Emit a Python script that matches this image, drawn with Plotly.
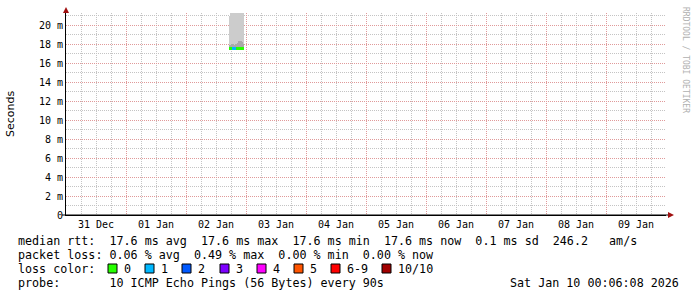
import plotly.graph_objects as go

# ---- data ----
times = ["2026-01-02 17:36", "2026-01-02 18:00", "2026-01-02 18:24", "2026-01-02 18:48",
         "2026-01-02 19:12", "2026-01-02 19:36", "2026-01-02 20:00", "2026-01-02 20:24",
         "2026-01-02 20:48", "2026-01-02 21:12", "2026-01-02 21:36", "2026-01-02 22:00",
         "2026-01-02 22:24", "2026-01-02 22:48"]
smoke_min = [17.4, 17.4, 17.4, 17.4, 17.4, 17.4, 17.4, 17.4, 17.4, 17.4, 17.4, 17.4, 17.4, 17.4]
smoke_max = [21.0, 21.3, 21.3, 21.3, 21.3, 21.3, 21.3, 21.3, 21.3, 21.3, 21.3, 21.3, 21.3, 21.3]
smoke_dark = [17.9, 17.9, 18.0, 18.0, 17.9, 17.9, 18.0, 18.0, 18.1, 18.3, 18.3, 18.3, 18.2, 18.0]
median_ms = [17.6, 17.6, 17.6, 17.6, 17.6, 17.6, 17.6, 17.6, 17.6, 17.6, 17.6, 17.6, 17.6, 17.6]
loss_count = [0, 0, 0, 1, 1, 1, 1, 0, 0, 0, 0, 0, 0, 0]

loss_labels = ["0", "1", "2", "3", "4", "5", "6-9", "10/10"]
loss_colors = ["#26ff00", "#00b8ff", "#0059ff", "#7e00ff", "#ff00ff", "#ff5500", "#ff0000", "#a10000"]

y_tickvals = [0, 2, 4, 6, 8, 10, 12, 14, 16, 18, 20]
y_ticktext = ["0", "2 m", "4 m", "6 m", "8 m", "10 m", "12 m", "14 m", "16 m", "18 m", "20 m"]

line1 = "median rtt:  17.6 ms avg  17.6 ms max  17.6 ms min  17.6 ms now  0.1 ms sd  246.2   am/s"
line2 = "packet loss: 0.06 % avg  0.49 % max  0.00 % min  0.00 % now"
line3 = "loss color:"
line4 = "probe:       10 ICMP Echo Pings (56 Bytes) every 90s"
stamp = "Sat Jan 10 00:06:08 2026"
watermark = "RRDTOOL / TOBI OETIKER"

X0, X1 = "2025-12-31 00:00", "2026-01-10 00:00"
Y_TOP = 21.3

# ---- geometry helpers (pixel -> paper) ----
W, H = 697, 297
L, R, T, B = 66, 666, 13, 215
def px(x):
    return (x - L) / (R - L)
def py(y):
    return (B - y) / (B - T)

STEP_MS = 1440 * 1000
mono = "DejaVu Sans Mono"

def loss_idx(n):
    if n <= 5:
        return n
    return 6 if n < 10 else 7

fig = go.Figure()

fig.add_trace(go.Bar(x=times, y=[a - b for a, b in zip(smoke_max, smoke_min)], base=smoke_min,
                     width=STEP_MS, marker=dict(color="#cccccc", line=dict(width=0)),
                     showlegend=False, hoverinfo="skip"))
fig.add_trace(go.Bar(x=times, y=[a - b for a, b in zip(smoke_dark, smoke_min)], base=smoke_min,
                     width=STEP_MS, marker=dict(color="#a9a9a9", line=dict(width=0)),
                     showlegend=False, hoverinfo="skip"))
med_colors = [loss_colors[loss_idx(l)] for l in loss_count]
fig.add_trace(go.Bar(x=times, y=[0.3] * len(times), base=[m - 0.15 for m in median_ms],
                     width=STEP_MS, marker=dict(color=med_colors, line=dict(width=0)),
                     showlegend=False, hoverinfo="skip"))

major_grid = "#e09a9a"
minor_grid = "#c4c4c4"

fig.update_layout(
    width=W, height=H,
    margin=dict(l=L, r=W - R, t=T, b=H - B),
    paper_bgcolor="white", plot_bgcolor="white",
    barmode="overlay", bargap=0,
    showlegend=False,
    xaxis=dict(
        type="date", range=[X0, X1],
        tick0="2025-12-31", dtick=86400000, ticklabelmode="period", tickformat="%d %b",
        showgrid=True, gridcolor=major_grid, griddash="1px,1px", gridwidth=1,
        minor=dict(dtick=21600000, tick0="2025-12-31", showgrid=True, gridcolor=minor_grid,
                   griddash="1px,1px", gridwidth=1),
        showline=True, linecolor="black", linewidth=1,
        ticks="", zeroline=False,
        tickfont=dict(family=mono, size=10, color="#000000"),
    ),
    yaxis=dict(
        range=[0, Y_TOP], tickvals=y_tickvals, ticktext=y_ticktext,
        showgrid=True, gridcolor=major_grid, griddash="1px,1px", gridwidth=1,
        minor=dict(dtick=1, tick0=0, showgrid=True, gridcolor=minor_grid,
                   griddash="1px,1px", gridwidth=1),
        showline=True, linecolor="black", linewidth=1,
        ticks="", zeroline=False,
        tickfont=dict(family=mono, size=10, color="#000000"),
    ),
)

shapes = []
# axis arrows
shapes.append(dict(type="path", xref="paper", yref="paper",
                   path=f"M {px(63)} {py(13)} L {px(69)} {py(13)} L {px(66)} {py(7)} Z",
                   fillcolor="#a01010", line=dict(width=0)))
shapes.append(dict(type="path", xref="paper", yref="paper",
                   path=f"M {px(668)} {py(212)} L {px(668)} {py(218)} L {px(674)} {py(215)} Z",
                   fillcolor="#a01010", line=dict(width=0)))
shapes.append(dict(type="line", xref="paper", yref="paper",
                   x0=px(62), x1=px(668), y0=py(215), y1=py(215),
                   line=dict(color="black", width=1)))

annotations = []
def txt(text, x, y, anchor="left", size=11.7, color="#000000", family=mono, angle=0):
    annotations.append(dict(text=text, x=px(x), y=py(y), xref="paper", yref="paper",
                            xanchor=anchor, yanchor="middle", showarrow=False,
                            textangle=angle,
                            font=dict(family=family, size=size, color=color)))

txt(line1, 16, 241)
txt(line2, 16, 255)
txt(line3, 16, 269)
txt(line4, 16, 283)
txt(stamp, 681, 283, anchor="right")

box_x = [108, 145, 182, 220, 257, 294, 331, 382]
for bx, lab, col in zip(box_x, loss_labels, loss_colors):
    shapes.append(dict(type="rect", xref="paper", yref="paper",
                       x0=px(bx), x1=px(bx + 9), y0=py(273), y1=py(264),
                       fillcolor=col, line=dict(color="black", width=1)))
    txt(lab, bx + 14, 269)

txt("Seconds", 10, 114, anchor="center", size=11, family="DejaVu Sans", angle=-90)
annotations.append(dict(text=watermark, x=px(686), y=py(60), xref="paper", yref="paper",
                        xanchor="center", yanchor="middle", showarrow=False, textangle=90,
                        font=dict(family=mono, size=8, color="#b0b0b0")))

fig.update_layout(shapes=shapes, annotations=annotations)
fig.write_html("out.html")
